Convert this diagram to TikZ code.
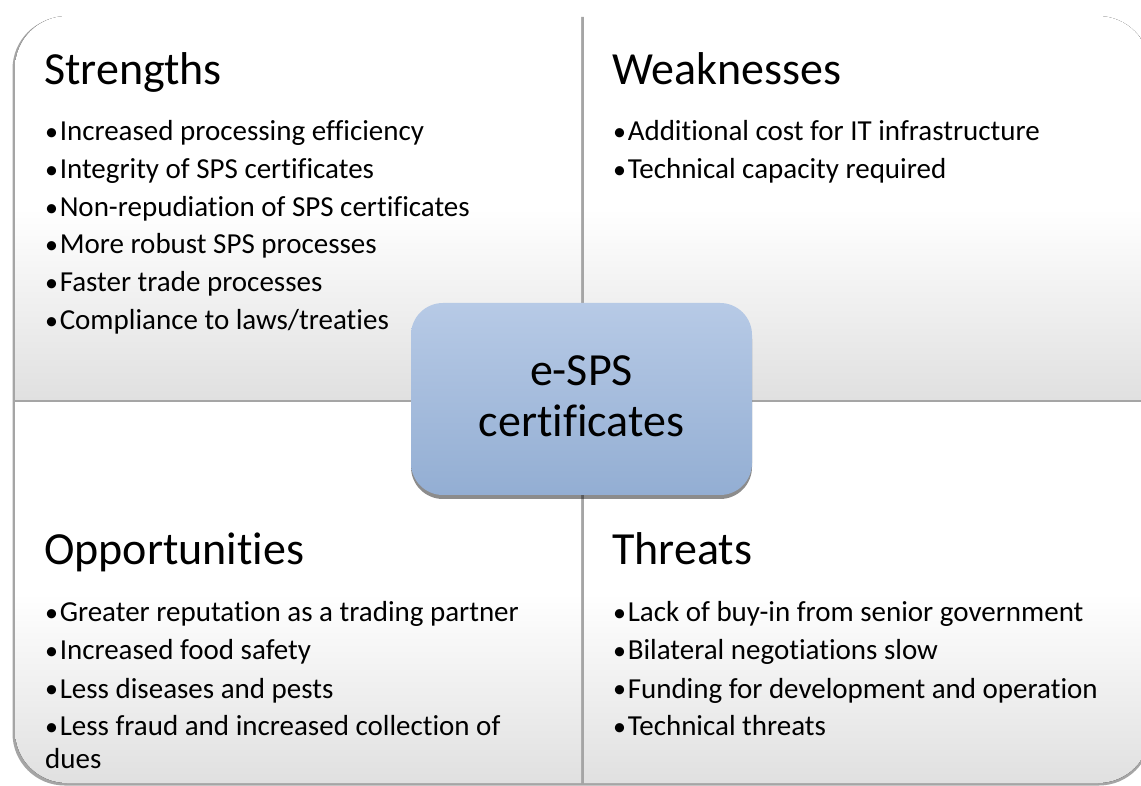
\documentclass[tikz,border=0pt]{standalone}
\usepackage{fontspec}
\setmainfont{Carlito}[Ligatures=NoCommon]
\usetikzlibrary{shadows}
\definecolor{qbot}{RGB}{224,224,224}
\definecolor{rim}{RGB}{165,165,165}
\definecolor{ctop}{RGB}{183,202,230}
\definecolor{cbot}{RGB}{147,174,211}
\newcommand{\bdot}{{\fontsize{26}{26}\selectfont\raisebox{0.8pt}{•}}\hspace{1.6pt}}
\begin{document}
\begin{tikzpicture}[x=1pt,y=1pt,
  ttl/.style={anchor=base west,inner sep=0,font=\fontsize{46}{50}\selectfont},
  blt/.style={anchor=base west,inner sep=0,font=\fontsize{29}{32}\selectfont},
  quadfill/.style={top color=white,bottom color=qbot,middle color=white},
  ctext/.style={anchor=base,inner sep=0,font=\fontsize{46}{51}\selectfont}]
\useasboundingbox (0,0) rectangle (1141,785);
% shadow / rim
\fill[rim,rounded corners=52] (12.5,-0.5) rectangle (1151,768);
% quadrants
\begin{scope}
  \clip[rounded corners=52] (15,2) rectangle (1150,769);
  \fill[quadfill] (15,385) rectangle (581,769);
  \fill[quadfill] (584,385) rectangle (1150,769);
  \fill[quadfill] (15,2) rectangle (581,382);
  \fill[quadfill] (584,2) rectangle (1150,382);
\end{scope}
% Strengths
\node[ttl] (st) at (44,700) {Strengths};
\node[blt] (s1) at (45,644) {\bdot Increased processing efficiency};
\node[blt] (s2) at (45,606) {\bdot Integrity of SPS certificates};
\node[blt] (s3) at (45,568) {\bdot Non-repudiation of SPS certificates};
\node[blt] (s4) at (45,531) {\bdot More robust SPS processes};
\node[blt] (s5) at (45,493) {\bdot Faster trade processes};
\node[blt] (s6) at (45,455) {\bdot Compliance to laws/treaties};
% Weaknesses
\node[ttl] (wt) at (612,700) {Weaknesses};
\node[blt] (w1) at (613,644) {\bdot Additional cost for IT infrastructure};
\node[blt] (w2) at (613,606) {\bdot Technical capacity required};
% Opportunities
\node[ttl] (ot) at (44,220) {Opportunities};
\node[blt] (o1) at (45,163) {\bdot Greater reputation as a trading partner};
\node[blt] (o2) at (45,125) {\bdot Increased food safety};
\node[blt] (o3) at (45,87) {\bdot Less diseases and pests};
\node[blt] (o4) at (45,49) {\bdot Less fraud and increased collection of};
\node[blt] (o5) at (45,17) {dues};
% Threats
\node[ttl] (tt) at (612,220) {Threats};
\node[blt] (t1) at (613,163) {\bdot Lack of buy-in from senior government};
\node[blt] (t2) at (613,125) {\bdot Bilateral negotiations slow};
\node[blt] (t3) at (613,87) {\bdot Funding for development and operation};
\node[blt] (t4) at (613,49) {\bdot Technical threats};
% centre
\node[rounded corners=32,minimum width=341,minimum height=192,inner sep=0,
  top color=ctop,bottom color=cbot,
  drop shadow={shadow xshift=0pt,shadow yshift=-4pt,opacity=0.45,fill=black}]
  (core) at (581.5,386) {};
\node[ctext] (c1) at (581.5,399) {e-SPS};
\node[ctext] (c2) at (581.5,348) {certificates};
\end{tikzpicture}
\end{document}
